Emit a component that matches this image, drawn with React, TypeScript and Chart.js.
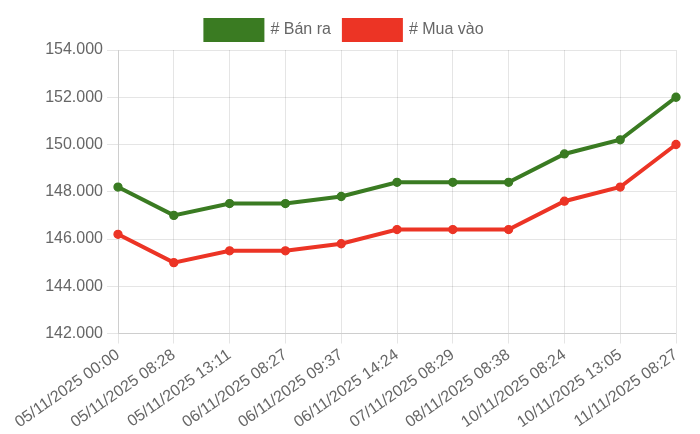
import { useEffect, useRef } from "react";
import { Chart, registerables } from "chart.js";

Chart.register(...registerables);

const labels = [
  "05/11/2025 00:00",
  "05/11/2025 08:28",
  "05/11/2025 13:11",
  "06/11/2025 08:27",
  "06/11/2025 09:37",
  "06/11/2025 14:24",
  "07/11/2025 08:29",
  "08/11/2025 08:38",
  "10/11/2025 08:24",
  "10/11/2025 13:05",
  "11/11/2025 08:27",
];

const banRa = [148200, 147000, 147500, 147500, 147800, 148400, 148400, 148400, 149600, 150200, 152000];
const muaVao = [146200, 145000, 145500, 145500, 145800, 146400, 146400, 146400, 147600, 148200, 150000];

const green = "#3a7b22";
const red = "#ec3425";

const fmt = (v: number) => String(Math.round(v)).replace(/\B(?=(\d{3})+(?!\d))/g, ".");

export default function App() {
  const canvasRef = useRef<HTMLCanvasElement>(null);
  const chartRef = useRef<Chart | null>(null);

  useEffect(() => {
    document.body.style.margin = "0";
    if (!canvasRef.current) return;
    Chart.defaults.font.family = "'Liberation Sans', Arial, sans-serif";
    Chart.defaults.font.size = 16;
    Chart.defaults.color = "#666";

    chartRef.current?.destroy();
    chartRef.current = new Chart(canvasRef.current, {
      type: "line",
      data: {
        labels,
        datasets: [
          {
            label: "# Bán ra",
            data: banRa,
            borderColor: green,
            backgroundColor: green,
            borderWidth: 4,
            pointRadius: 4,
            pointBorderWidth: 1.3,
            pointBackgroundColor: green,
            tension: 0,
          },
          {
            label: "# Mua vào",
            data: muaVao,
            borderColor: red,
            backgroundColor: red,
            borderWidth: 4,
            pointRadius: 4,
            pointBorderWidth: 1.3,
            pointBackgroundColor: red,
            tension: 0,
          },
        ],
      },
      options: {
        animation: false,
        responsive: true,
        maintainAspectRatio: false,
        layout: { padding: { left: 13, right: 24, top: 7, bottom: 0 } },
        plugins: {
          legend: {
            labels: { boxWidth: 57, boxHeight: 20, padding: 13 },
          },
          tooltip: { enabled: false },
        },
        scales: {
          x: {
            ticks: { maxRotation: 35, minRotation: 35, padding: 2 },
            grid: { color: "rgba(0,0,0,0.1)", tickLength: 10 },
          },
          y: {
            min: 142000,
            max: 154000,
            afterFit: (scale) => {
              scale.width = 105;
            },
            ticks: { stepSize: 2000, padding: 4, callback: (v) => fmt(Number(v)) },
            grid: { color: "rgba(0,0,0,0.1)", tickLength: 11 },
          },
        },
      },
    });

    return () => {
      chartRef.current?.destroy();
    };
  }, []);

  return (
    <div style={{ width: 700, height: 434 }}>
      <canvas ref={canvasRef} />
    </div>
  );
}
